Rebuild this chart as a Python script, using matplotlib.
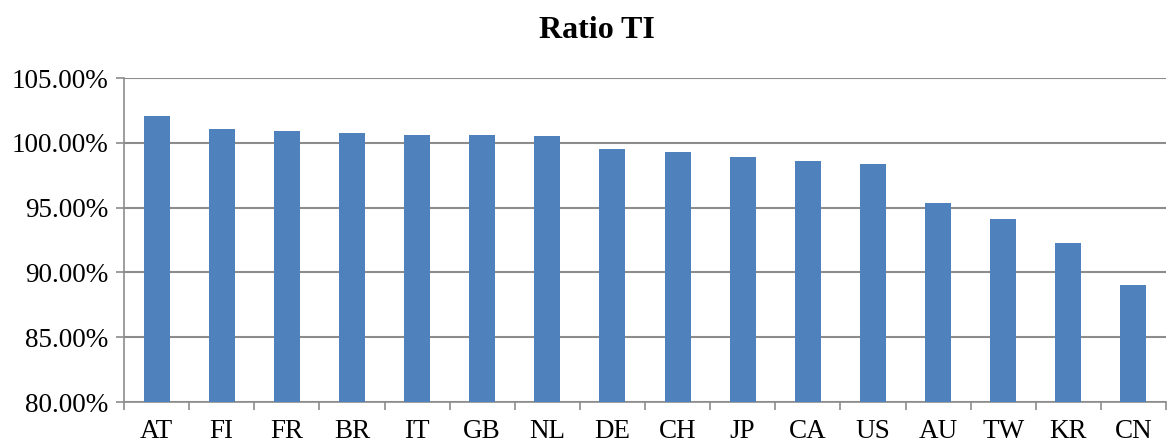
import numpy as np
import matplotlib.pyplot as plt
from matplotlib.ticker import FuncFormatter, FixedLocator

countries = ['AT', 'FI', 'FR', 'BR', 'IT', 'GB', 'NL', 'DE',
             'CH', 'JP', 'CA', 'US', 'AU', 'TW', 'KR', 'CN']
ratio_ti = [102.06, 101.04, 100.91, 100.76, 100.57, 100.57, 100.49, 99.56,
            99.28, 98.87, 98.63, 98.38, 95.36, 94.12, 92.29, 89.02]
y_ticks = [80, 85, 90, 95, 100, 105]

plt.rcParams['font.family'] = ['Liberation Serif', 'DejaVu Serif']

fig = plt.figure(figsize=(11.68, 4.44), dpi=100)
ax = fig.add_axes([124/1168, 1 - 402/444, 1042/1168, 324/444])

x = np.arange(len(countries))
ax.bar(x, ratio_ti, width=0.4, color='#4F81BD', zorder=3)

ax.set_xlim(-0.5, len(countries) - 0.5)
ax.set_ylim(80, 105)
ax.set_yticks(y_ticks)
ax.yaxis.set_major_formatter(FuncFormatter(lambda v, p: f'{v:.2f}%'))
ax.set_xticks(x)
ax.set_xticklabels(countries)
ax.xaxis.set_minor_locator(FixedLocator(np.arange(-0.5, len(countries), 1)))

ax.tick_params(axis='x', which='major', length=0, labelsize=19.5, pad=12)
ax.tick_params(axis='x', which='minor', length=6, width=1.2, color='#8c8c8c')
ax.tick_params(axis='y', length=6, width=1.2, color='#8c8c8c', labelsize=19.5, pad=5)

ax.grid(axis='y', color='#8c8c8c', linewidth=1.5, zorder=0)
ax.set_axisbelow(True)
for s in ['top', 'right']:
    ax.spines[s].set_visible(False)
for s in ['left', 'bottom']:
    ax.spines[s].set_color('#8c8c8c')
    ax.spines[s].set_linewidth(1.2)

fig.text(597/1168, 1 - 31/444, 'Ratio TI', ha='center', va='center',
         fontsize=23, fontweight='bold')

fig.savefig('out.png', dpi=100)
